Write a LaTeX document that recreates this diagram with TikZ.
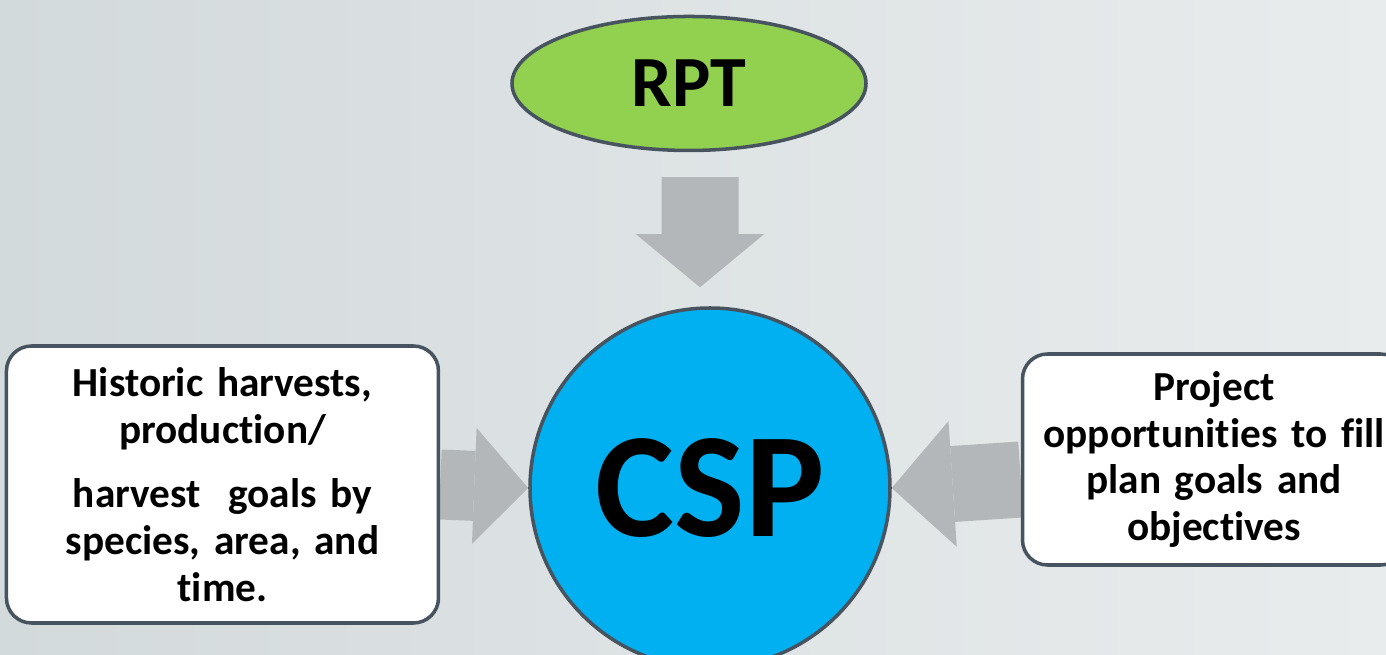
\documentclass[tikz,border=0pt]{standalone}
\usepackage{fontspec}
\setmainfont{Carlito}[Ligatures=NoCommon]
\usetikzlibrary{
        arrows.meta,
        backgrounds,
        positioning,
        shapes.geometric
    }
\definecolor{rptgreen}{HTML}{92D050}
\definecolor{cspblue}{HTML}{00B0F0}
\definecolor{edgegray}{HTML}{485360}
\definecolor{arrowgray}{HTML}{B4B7B9}
\definecolor{bgleft}{HTML}{D3DADC}
\definecolor{bgright}{HTML}{E9ECED}
\tikzset{outline/.style={draw=edgegray,line width=2pt}}
\tikzset{plan/.style={outline,circle,fill=cspblue,minimum size=7.2cm,inner sep=0pt,
        font=\fontsize{85}{85}\selectfont\bfseries}}
\tikzset{source/.style={outline,ellipse,fill=rptgreen,minimum width=7.08cm,minimum height=2.68cm,
        inner sep=0pt,font=\fontsize{41}{41}\selectfont\bfseries}}
\tikzset{infobox/.style={outline,rectangle,rounded corners=0.5cm,fill=white,align=center,
        font=\fontsize{23.5}{26.6}\selectfont\bfseries}}
\tikzset{blockarrow/.style n args={3}{draw=arrowgray,line width=#1,
        -{Triangle[length=#2,width=#3,line width=0pt]}}}

\begin{document}
\begin{tikzpicture}
                        \useasboundingbox (-14.2,-3.32) rectangle (13.52,9.76);
                        \node[plan] (csp) at (0,0) {CSP};
                        \node[source] (rpt) [above=3.08cm of csp,xshift=-0.42cm] {RPT};
                        \node[infobox,text width=8.4cm,minimum width=8.64cm,minimum height=5.54cm]
                            (hist) [left=1.76cm of csp,yshift=0.07cm]
                            {Historic harvests,\\ production/\\[10pt] harvest~ goals by\\ species, area, and\\ time.};
                        \node[infobox,text width=7.4cm,minimum width=7.66cm,minimum height=4.22cm]
                            (proj) [right=2.58cm of csp,yshift=0.57cm]
                            {Project\\ opportunities to fill\\ plan goals and\\ objectives};
                        \begin{scope}[on background layer]
                            \shade[left color=bgleft,right color=bgright] (-14.2,-3.32) rectangle (13.52,9.76);
                            \draw[blockarrow={1.54cm}{1.06cm}{2.56cm},shorten <=0.5cm,shorten >=0.38cm]
                                ([xshift=0.22cm]rpt.south) -- ([xshift=-0.2cm]csp.north);
                            \draw[blockarrow={1.4cm}{1.08cm}{2.32cm}] (hist.east) -- (csp.west);
                            \draw[blockarrow={1.52cm}{1.22cm}{2.52cm}] ([yshift=-0.4cm]proj.west) -- (csp.east);
                        \end{scope}
                    \end{tikzpicture}
\end{document}
